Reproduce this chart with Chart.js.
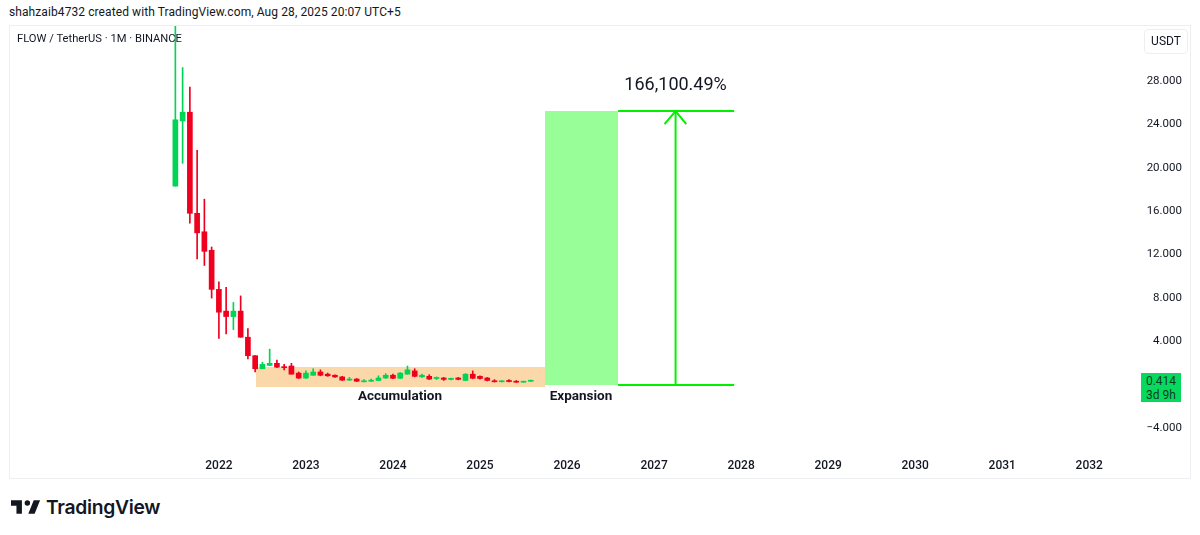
<!DOCTYPE html>
<html>
<head>
<meta charset="utf-8">
<title>FLOW / TetherUS</title>
<style>
  html, body { margin: 0; padding: 0; background: #fff; width: 1200px; height: 535px; overflow: hidden; }
  body { font-family: Roboto, sans-serif; color: #131722; position: relative; }
  .abs { position: absolute; white-space: nowrap; }
  #frame { left: 9px; top: 25px; width: 1180px; height: 452px; border: 1px solid #eceef1; box-sizing: content-box; }
  #chart { position: absolute; left: 10px; top: 26px; }
  #credit { left: 9px; top: 4px; font-size: 12px; line-height: 16px; letter-spacing: 0.09px; }
  #title { left: 17px; top: 31px; font-size: 11.2px; line-height: 16px; }
  #unit { left: 1144px; top: 29px; width: 42px; height: 23px; border: 1px solid #eceef1; border-radius: 4px;
          font-size: 12px; line-height: 23px; text-align: center; }
  #badge { left: 1141px; top: 373px; width: 40px; height: 29px; background: #06d95e; color: #0b3d21;
           font-size: 12px; line-height: 14px; text-align: center; padding-top: 1px; box-sizing: border-box; }
  #logo { left: 11px; top: 497px; }
  #brand { left: 46px; top: 494px; font-family: Inter, sans-serif; font-weight: 600; font-size: 19.3px; line-height: 26px; letter-spacing: -0.3px; }
</style>
</head>
<body>
<div class="abs" id="frame"></div>
<canvas id="chart" width="1179" height="451"></canvas>
<div class="abs" id="credit">shahzaib4732 created with TradingView.com, Aug 28, 2025 20:07 UTC+5</div>
<div class="abs" id="title">FLOW / TetherUS · 1M · BINANCE</div>
<div class="abs" id="unit">USDT</div>
<div class="abs" id="badge">0.414<br>3d 9h</div>
<svg class="abs" id="logo" width="30" height="20" viewBox="2 3 33 21"><path fill="#131722" d="M14 6H2v6h6v9h6V6zm14 15h-7l6-15h7l-6 15zm-8-9a3 3 0 1 0 0-6 3 3 0 0 0 0 6z"/></svg>
<div class="abs" id="brand">TradingView</div>

<script src="https://cdn.jsdelivr.net/npm/chart.js"></script>
<script>
  const candleMonths = [
    '2021-07','2021-08','2021-09','2021-10','2021-11','2021-12',
    '2022-01','2022-02','2022-03','2022-04','2022-05','2022-06','2022-07','2022-08','2022-09','2022-10','2022-11','2022-12',
    '2023-01','2023-02','2023-03','2023-04','2023-05','2023-06','2023-07','2023-08','2023-09','2023-10','2023-11','2023-12',
    '2024-01','2024-02','2024-03','2024-04','2024-05','2024-06','2024-07','2024-08','2024-09','2024-10','2024-11','2024-12',
    '2025-01','2025-02','2025-03','2025-04','2025-05','2025-06','2025-07','2025-08'
  ];
  const opens  = [18.3,24.3,25.1,15.8,14.1,12.4,8.8,6.8,6.3,6.8,4.4,2.7,1.5,1.8,2.0,1.65,1.75,1.1,0.64,0.9,1.2,1.0,0.9,0.75,0.45,0.55,0.3,0.35,0.42,0.65,0.9,0.62,1.0,1.3,0.75,0.8,0.6,0.65,0.52,0.65,0.42,1.0,0.8,0.65,0.35,0.3,0.42,0.32,0.26,0.35];
  const closes = [24.4,25.1,15.8,14.0,12.3,8.8,6.7,6.3,6.8,4.4,2.7,1.5,1.9,2.0,1.65,1.6,1.0,0.64,1.1,1.2,0.9,0.85,0.75,0.45,0.55,0.35,0.35,0.45,0.65,0.9,0.62,1.1,1.4,0.8,0.9,0.55,0.7,0.52,0.62,0.52,1.0,0.62,0.6,0.42,0.3,0.38,0.32,0.26,0.32,0.42];
  const highs  = [36,29.2,27.4,21.6,17.1,12.7,9.5,9.0,7.6,8.2,5.2,2.7,2.1,3.3,2.3,1.9,2.0,1.2,1.3,1.5,1.4,1.1,0.95,0.8,0.7,0.6,0.5,0.55,0.85,1.05,1.0,1.15,1.75,1.5,1.0,0.95,0.75,0.7,0.65,0.7,1.05,1.3,0.85,0.7,0.5,0.4,0.5,0.42,0.35,0.45];
  const lows   = [18.3,20.4,14.9,11.6,11.0,8.0,4.3,4.7,5.1,4.4,2.4,1.2,1.5,1.8,1.6,1.4,1.0,0.6,0.6,0.9,0.85,0.8,0.7,0.42,0.42,0.32,0.28,0.33,0.4,0.6,0.58,0.6,1.0,0.75,0.7,0.5,0.5,0.42,0.48,0.48,0.4,0.58,0.55,0.38,0.28,0.28,0.28,0.24,0.24,0.32];

  const yearTicks = [2022,2023,2024,2025,2026,2027,2028,2029,2030,2031,2032];
  const priceTicks = [-4,4,8,12,16,20,24,28];

  // drawings on the chart, [year, price]
  const accumulationBox = { from: 2022.425, to: 2025.747, top: 1.66, bottom: -0.18 };
  const expansionBox = { from: 2025.747, to: 2026.586, top: 25.2, bottom: 0 };
  const targetLine = [[2026.586, 25.2], [2027.92, 25.2]];
  const baseLine = [[2026.586, 0], [2027.92, 0]];
  const arrowShaft = [[2027.247, 0], [2027.247, 25.2]];
  const arrowHead = [[2027.12, 24.0], [2027.247, 25.2], [2027.37, 24.0]];
  const noteLabels = [
    { text: '166,100.49%', x: 2027.247, y: 27.55, font: '400 18px Roboto, sans-serif' },
    { text: 'Accumulation', x: 2024.08, y: -1.1, font: '700 13.5px Roboto, sans-serif' },
    { text: 'Expansion', x: 2026.16, y: -1.1, font: '700 13.5px Roboto, sans-serif' }
  ];

  const RED = '#f0001f';
  const GREEN = '#00d455';
  const LINE_GREEN = '#00f000';

  const candleX = candleMonths.map(m => {
    const [y, mo] = m.split('-').map(Number);
    return y + (mo - 1) / 12;
  });
  const candleColors = opens.map((o, i) => closes[i] >= o ? GREEN : RED);
  const toXY = pts => pts.map(p => ({ x: p[0], y: p[1] }));

  function boxDataset(box, color) {
    return {
      type: 'line',
      data: [{ x: box.from, y: box.top }, { x: box.to, y: box.top }],
      borderWidth: 0,
      borderColor: color,
      backgroundColor: color,
      pointRadius: 0,
      tension: 0,
      fill: { value: box.bottom },
      order: 10
    };
  }
  function lineDataset(pts) {
    return {
      type: 'line',
      data: toXY(pts),
      borderColor: LINE_GREEN,
      borderWidth: 2,
      pointRadius: 0,
      tension: 0,
      fill: false,
      order: 5
    };
  }

  // tick label overhang would otherwise shrink the plot area
  function noPadding(s) {
    s.paddingTop = s.paddingBottom = s.paddingLeft = s.paddingRight = 0;
  }

  const noteLabelPlugin = {
    id: 'noteLabels',
    afterDatasetsDraw(chart) {
      const c = chart.ctx;
      c.save();
      c.fillStyle = '#131722';
      c.textAlign = 'center';
      c.textBaseline = 'middle';
      noteLabels.forEach(l => {
        c.font = l.font;
        c.fillText(l.text, chart.scales.x.getPixelForValue(l.x), chart.scales.y.getPixelForValue(l.y));
      });
      c.restore();
    }
  };

  new Chart(document.getElementById('chart'), {
    type: 'bar',
    data: {
      datasets: [
        boxDataset(accumulationBox, '#fad8a9'),
        boxDataset(expansionBox, '#98ff98'),
        lineDataset(targetLine),
        lineDataset(baseLine),
        lineDataset(arrowShaft),
        lineDataset(arrowHead),
        {
          label: 'wick',
          data: candleX.map((x, i) => ({ x, y: [lows[i], highs[i]] })),
          backgroundColor: candleColors,
          barThickness: 1,
          grouped: false,
          order: 2
        },
        {
          label: 'body',
          data: candleX.map((x, i) => ({ x, y: [opens[i], closes[i]] })),
          backgroundColor: candleColors,
          barThickness: 5,
          minBarLength: 1,
          grouped: false,
          order: 1
        }
      ]
    },
    options: {
      responsive: false,
      animation: false,
      events: [],
      layout: { padding: { right: 7 } },
      plugins: { legend: { display: false }, tooltip: { enabled: false } },
      scales: {
        x: {
          type: 'linear',
          offset: false,
          min: 2019.6,
          max: 2032.56,
          grid: { display: false, drawTicks: false },
          border: { display: false },
          afterFit(s) { s.height = 25; noPadding(s); },
          afterBuildTicks(s) { s.ticks = yearTicks.map(v => ({ value: v })); },
          ticks: {
            autoSkip: false,
            maxRotation: 0,
            padding: 7,
            color: '#131722',
            font: { family: 'Roboto, sans-serif', size: 12, weight: '500' },
            callback: v => String(v)
          }
        },
        y: {
          position: 'right',
          min: -6.16,
          max: 33.03,
          grid: { display: false, drawTicks: false },
          border: { display: false },
          afterFit(s) { s.width = 44; noPadding(s); },
          afterBuildTicks(s) { s.ticks = priceTicks.map(v => ({ value: v })); },
          ticks: {
            autoSkip: false,
            crossAlign: 'far',
            padding: 2,
            color: '#131722',
            font: { family: 'Roboto, sans-serif', size: 11.5 },
            callback: v => v.toFixed(3).replace('-', '\u2212')
          }
        }
      }
    },
    plugins: [noteLabelPlugin]
  });
</script>
</body>
</html>
